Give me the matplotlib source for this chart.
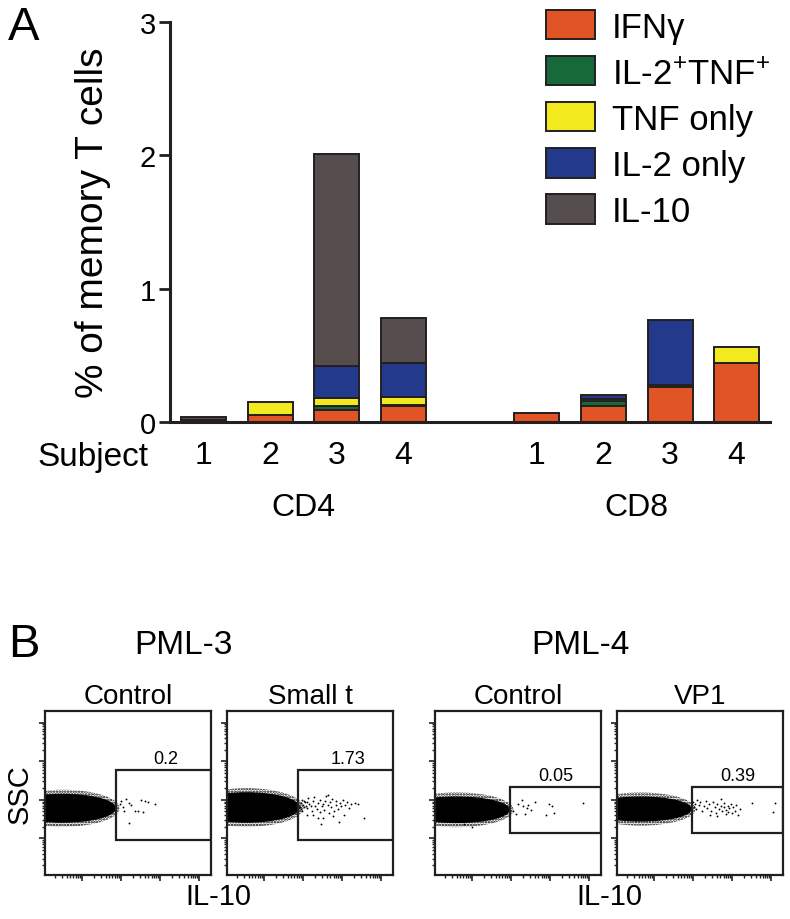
import numpy as np
import matplotlib
matplotlib.use("Agg")
import matplotlib.pyplot as plt
from matplotlib.patches import Ellipse, Rectangle
from matplotlib.transforms import blended_transform_factory

plt.rcParams['font.family'] = ['Liberation Sans', 'DejaVu Sans']
plt.rcParams['mathtext.fontset'] = 'custom'
plt.rcParams['mathtext.rm'] = 'Liberation Sans'
plt.rcParams['hatch.linewidth'] = 1.2

INK = "#231f20"

# ---- panel A data (% of memory T cells) ----
subject_labels = ["1", "2", "3", "4", "1", "2", "3", "4"]
subject_pos = [0, 1, 2, 3, 5, 6, 7, 8]
groups = ["CD4", "CD8"]
series_names = ["IFNγ", r"IL-2$^{\mathregular{+}}$TNF$^{\mathregular{+}}$",
                "TNF only", "IL-2 only", "IL-10"]
ifng = [0.015, 0.05, 0.09, 0.12, 0.07, 0.12, 0.26, 0.44]
il2_tnf = [0.0, 0.0, 0.03, 0.01, 0.0, 0.04, 0.0, 0.0]
tnf_only = [0.0, 0.10, 0.06, 0.06, 0.0, 0.015, 0.015, 0.12]
il2_only = [0.0, 0.0, 0.24, 0.25, 0.0, 0.025, 0.49, 0.0]
il10 = [0.02, 0.0, 1.59, 0.34, 0.0, 0.0, 0.0, 0.0]
series_colors = ["#e05426", "#17693a", "#f2ea1f", "#233a8c", "#554d4e"]

# ---- panel B data (log10 fluorescence, IL-10 vs SSC) ----
donors = ["PML-3", "PML-4"]
flow_titles = ["Control", "Small t", "Control", "VP1"]
gate_values = ["0.2", "1.73", "0.05", "0.39"]
gate_x0 = [1.88, 1.88, 1.98, 1.98]
gate_y0 = [0.96, 0.96, 1.13, 1.13]
gate_y1 = [2.78, 2.78, 2.33, 2.33]
# main population (centre, spread)
pop_cx = [0.50, 0.55, 0.60, 0.65]
pop_cy = [1.78, 1.80, 1.74, 1.76]
pop_w = [2.70, 2.70, 2.70, 2.60]
pop_h = [0.72, 0.76, 0.66, 0.62]
# events outside the main population
ev1_x = [2.0, 2.13, 2.24, 2.19, 2.35, 2.44, 2.52, 2.61, 2.68, 2.87, 2.57, 2.19, 2.07, 2.04, 1.96]
ev1_y = [1.98, 2.02, 1.87, 1.91, 1.70, 1.72, 2.0, 1.98, 1.93, 1.90, 1.68, 1.39, 1.72, 1.80, 1.89]
ev2_x = [1.96, 2.00, 2.04, 2.09, 2.13, 2.16, 2.19, 2.22, 2.26, 2.28, 2.30, 2.35, 2.37, 2.42,
         2.44, 2.48, 2.50, 2.54, 2.57, 2.59, 2.63, 2.65, 2.68, 2.71, 2.74, 2.78, 2.83, 2.85,
         2.89, 2.94, 2.97, 3.01, 3.06, 3.11, 3.17, 3.23, 3.32, 3.41, 3.56, 2.91, 2.45, 3.04,
         2.76, 2.52, 2.09, 2.63, 2.26, 2.39, 1.92, 1.95, 1.98, 2.02, 2.06, 2.11, 1.94, 2.01]
ev2_y = [2.00, 1.87, 1.94, 1.78, 2.04, 1.89, 1.83, 1.72, 1.96, 2.08, 1.85, 1.77, 1.91, 2.00,
         1.68, 1.83, 1.89, 1.74, 1.98, 2.11, 1.87, 1.65, 1.94, 1.80, 2.02, 1.72, 1.87, 1.96,
         1.77, 1.91, 1.83, 2.00, 1.87, 1.94, 1.78, 1.89, 1.91, 1.90, 1.54, 1.42, 1.38, 1.61,
         1.57, 1.52, 1.61, 2.13, 1.61, 1.54, 1.80, 1.92, 1.70, 1.98, 1.85, 1.95, 1.75, 1.82]
ev3_x = [2.17, 2.29, 2.30, 2.44, 2.41, 2.61, 2.52, 2.35, 2.13, 2.97, 3.04, 2.89, 3.10, 3.84, 2.04, 0.79, 1.00]
ev3_y = [1.89, 2.00, 1.83, 1.87, 1.78, 1.94, 1.74, 1.63, 1.63, 1.89, 1.85, 1.61, 1.65, 1.91, 1.72, 1.36, 1.30]
ev4_x = [1.99, 2.02, 2.05, 2.08, 2.10, 2.14, 2.18, 2.22, 2.27, 2.32, 2.36, 2.41, 2.46, 2.50,
         2.55, 2.58, 2.62, 2.66, 2.70, 2.72, 2.75, 2.78, 2.80, 2.83, 2.85, 2.88, 2.90, 2.93,
         2.96, 2.99, 3.02, 3.06, 3.10, 3.14, 3.20, 3.51, 4.09, 4.05, 2.60, 2.44]
ev4_y = [1.95, 1.82, 1.90, 1.76, 2.00, 1.86, 1.93, 1.70, 1.84, 1.97, 1.78, 1.88, 1.72, 1.95,
         1.82, 1.66, 1.90, 1.76, 1.85, 2.02, 1.70, 1.80, 1.92, 1.74, 1.62, 1.84, 1.69, 1.78,
         1.88, 1.65, 1.80, 1.72, 1.86, 1.60, 1.76, 1.91, 1.92, 1.69, 1.58, 1.60]
events_x = [ev1_x, ev2_x, ev3_x, ev4_x]
events_y = [ev1_y, ev2_y, ev3_y, ev4_y]

FLOW_LIM = (0.05, 4.3)

fig = plt.figure(figsize=(7.9, 9.2), dpi=100)

# ================= panel A =================
ax = fig.add_axes([170 / 790, 1 - 423 / 920, 600 / 790, 400 / 920])
stack = [ifng, il2_tnf, tnf_only, il2_only, il10]
bottom = np.zeros(len(subject_pos))
xs = np.array(subject_pos)
handles = []
for vals, col, name in zip(stack, series_colors, series_names):
    vals = np.array(vals)
    keep = vals > 0
    b = ax.bar(xs[keep], vals[keep], width=0.675, bottom=bottom[keep], color=col,
               edgecolor=INK, linewidth=1.4, label=name)
    handles.append(b)
    bottom = bottom + vals

ax.set_xlim(-0.5, 8.5)
ax.set_ylim(0, 3)
ax.set_yticks([0, 1, 2, 3])
ax.set_xticks(subject_pos, subject_labels)
for s in ["top", "right"]:
    ax.spines[s].set_visible(False)
for s in ["left", "bottom"]:
    ax.spines[s].set_linewidth(2.2)
    ax.spines[s].set_color(INK)
ax.tick_params(axis="y", length=8, width=2.0, color=INK, labelsize=21, pad=2)
ax.tick_params(axis="x", length=0, labelsize=23, pad=13)
ax.set_ylabel("% of memory T cells", fontsize=28)
ax.yaxis.set_label_coords(-0.098, 0.5)

tr = blended_transform_factory(ax.transData, fig.transFigure)
fig.text(93 / 790, 1 - 458 / 920, "Subject", fontsize=24, ha="center", va="center")
ax.text(np.mean(subject_pos[:4]), 1 - 508 / 920, groups[0], transform=tr,
        fontsize=23, ha="center", va="center")
ax.text(np.mean(subject_pos[4:]), 1 - 508 / 920, groups[1], transform=tr,
        fontsize=23, ha="center", va="center")

ax.legend(handles=handles, loc="upper left", bbox_to_anchor=(546 / 790, 1 - 11 / 920),
          bbox_transform=fig.transFigure, frameon=False, fontsize=25,
          handlelength=1.4, handleheight=0.92, handletextpad=0.5, labelspacing=0.36,
          borderpad=0, borderaxespad=0)

fig.text(8 / 790, 1 - 28 / 920, "A", fontsize=34, ha="left", va="center")

# ================= panel B =================
fig.text(8 / 790, 1 - 645 / 920, "B", fontsize=34, ha="left", va="center")
fig.text(183 / 790, 1 - 645 / 920, donors[0], fontsize=24, ha="center", va="center")
fig.text(580 / 790, 1 - 645 / 920, donors[1], fontsize=24, ha="center", va="center")

lefts = [45, 227, 435, 617]
minor = np.concatenate([np.log10(np.arange(2, 10)) + d for d in range(0, 5)])
for i in range(4):
    fa = fig.add_axes([lefts[i] / 790, 1 - 876 / 920, 166 / 790, 164 / 920])
    fa.set_xlim(*FLOW_LIM)
    fa.set_ylim(*FLOW_LIM)
    halo = Ellipse((pop_cx[i], pop_cy[i]), pop_w[i] + 0.22, pop_h[i] + 0.24,
                   facecolor="none", edgecolor="black", hatch="......", linewidth=0)
    fa.add_patch(halo)
    core = Ellipse((pop_cx[i], pop_cy[i]), pop_w[i], pop_h[i],
                   facecolor="black", edgecolor="black", linewidth=0.8)
    fa.add_patch(core)
    fa.scatter(events_x[i], events_y[i], s=1.8, color="black", linewidths=0)
    gate = Rectangle((gate_x0[i], gate_y0[i]), FLOW_LIM[1] - gate_x0[i],
                     gate_y1[i] - gate_y0[i], fill=False, edgecolor=INK, linewidth=1.6)
    fa.add_patch(gate)
    fa.text(3.15, gate_y1[i] + 0.08, gate_values[i], fontsize=13, ha="center", va="bottom")
    fa.set_title(flow_titles[i], fontsize=20, pad=6)
    fa.set_xticks([1, 2, 3, 4])
    fa.set_yticks([1, 2, 3, 4])
    fa.set_xticks(minor[(minor > FLOW_LIM[0]) & (minor < FLOW_LIM[1])], minor=True)
    fa.set_yticks(minor[(minor > FLOW_LIM[0]) & (minor < FLOW_LIM[1])], minor=True)
    fa.tick_params(which="both", labelbottom=False, labelleft=False, color=INK)
    fa.tick_params(which="major", length=4, width=1.2)
    fa.tick_params(which="minor", length=2.5, width=1.0)
    for s in fa.spines.values():
        s.set_linewidth(1.6)
        s.set_color(INK)
    if i == 0:
        fa.set_ylabel("SSC", fontsize=21, labelpad=4)

fig.text(218 / 790, 1 - 897 / 920, "IL-10", fontsize=21, ha="center", va="center")
fig.text(609 / 790, 1 - 897 / 920, "IL-10", fontsize=21, ha="center", va="center")

fig.savefig("out.png", dpi=100)
